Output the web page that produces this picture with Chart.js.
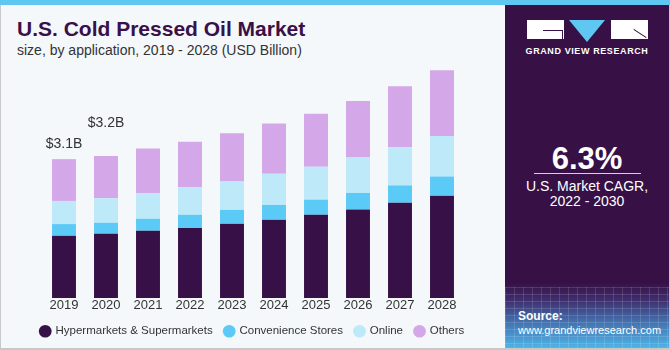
<!DOCTYPE html>
<html lang="en">
<head>
    <meta charset="UTF-8">
    <title>U.S. Cold Pressed Oil Market</title>
    <script src="https://cdn.jsdelivr.net/npm/chart.js"></script>
    <style>
        html, body {
            margin: 0;
            padding: 0;
        }
        body {
            width: 670px;
            height: 350px;
            position: relative;
            overflow: hidden;
            background: #f4f8fb;
            font-family: "Liberation Sans", Arial, sans-serif;
        }
        .topbar {
            position: absolute;
            left: 0; top: 0;
            width: 670px; height: 5px;
            background: #5ec8f2;
        }
        .frame {
            position: absolute;
            left: 0; top: 5px;
            width: 668px; height: 343px;
            border-left: 1px solid #c8c8c8;
            border-bottom: 2px solid #c8c8c8;
            border-right: 1px solid #c8c8c8;
        }
        h1 {
            position: absolute;
            left: 17px; top: 17px;
            margin: 0;
            font-size: 21px;
            line-height: 24px;
            font-weight: bold;
            color: #3a1048;
        }
        .sub {
            position: absolute;
            left: 17px; top: 42px;
            font-size: 14px;
            color: #333;
        }
        #wrap {
            position: absolute;
            left: 0; top: 60px;
            width: 505px; height: 289px;
        }
        .side {
            position: absolute;
            left: 505px; top: 5px;
            width: 164px; height: 343px;
            background: linear-gradient(to bottom, #371146 0%, #371146 81%, #3f2e6e 86%, #4477b4 93%, #4fb4e6 100%);
            color: white;
            text-align: center;
            overflow: hidden;
        }
        .mesh {
            position: absolute;
            left: 0; top: 282px;
            width: 164px; height: 61px;
            background-image:
                repeating-linear-gradient(to right, rgba(255,255,255,0.13) 0 1px, transparent 1px 9px),
                repeating-linear-gradient(to bottom, rgba(255,255,255,0.13) 0 1px, transparent 1px 7px);
        }
        .logo {
            position: absolute;
            left: 22px; top: 15px;
            width: 121px; height: 19px;
        }
        .logo .b1, .logo .b3 {
            position: absolute;
            top: 0; width: 37px; height: 19px;
            background: white;
        }
        .logo .b1 { left: 0; }
        .logo .b3 { left: 84px; }
        .logo .g1 {
            position: absolute;
            left: 16px; top: 10px;
            width: 20px; height: 1px;
            background: #371146;
        }
        .logo .g2 {
            position: absolute;
            left: 35px; top: 10px;
            width: 1px; height: 9px;
            background: #371146;
        }
        .logo .r1 {
            position: absolute;
            left: 107px; top: 9px;
            width: 15px; height: 1px;
            background: #371146;
            transform-origin: 0 0;
            transform: rotate(33deg);
        }
        .logo .tri {
            position: absolute;
            left: 42px; top: 0;
            width: 0; height: 0;
            border-left: 18px solid transparent;
            border-right: 18px solid transparent;
            border-top: 22px solid #5ec8f2;
        }
        .gvr {
            position: absolute;
            left: 0; top: 40px;
            width: 164px;
            font-size: 9px;
            line-height: 12px;
            font-weight: bold;
            letter-spacing: 0.6px;
        }
        .cagr {
            position: absolute;
            left: 0; top: 137px;
            width: 164px;
            font-size: 31px;
            line-height: 34px;
            font-weight: bold;
        }
        .rule {
            position: absolute;
            left: 29px; top: 168px;
            width: 107px; height: 1px;
            background: #d8d0e0;
        }
        .cagrtxt {
            position: absolute;
            left: 0; top: 174px;
            width: 164px;
            font-size: 14px;
            line-height: 15px;
        }
        .src {
            position: absolute;
            left: 13px; top: 304px;
            text-align: left;
            font-size: 11px;
            line-height: 14px;
        }
        .src b { font-size: 12px; }
    </style>
</head>
<body>
    <div class="topbar"></div>
    <div class="frame"></div>
    <h1>U.S. Cold Pressed Oil Market</h1>
    <div class="sub">size, by application, 2019 - 2028 (USD Billion)</div>
    <div id="wrap"><canvas id="chart"></canvas></div>
    <div class="side">
        <div class="mesh"></div>
        <div class="logo">
            <div class="b1"></div><div class="g1"></div><div class="g2"></div>
            <div class="tri"></div>
            <div class="b3"></div><div class="r1"></div>
        </div>
        <div class="gvr">GRAND VIEW RESEARCH</div>
        <div class="cagr">6.3%</div>
        <div class="rule"></div>
        <div class="cagrtxt">U.S. Market CAGR,<br>2022 - 2030</div>
        <div class="src"><b>Source:</b><br>www.grandviewresearch.com</div>
    </div>

    <script>
        // Dane (mld USD)
        const years = ['2019', '2020', '2021', '2022', '2023', '2024', '2025', '2026', '2027', '2028'];
        const hypermarkets = [1.40, 1.44, 1.51, 1.57, 1.67, 1.76, 1.87, 1.99, 2.14, 2.30];
        const convenience = [0.26, 0.25, 0.27, 0.30, 0.31, 0.33, 0.34, 0.37, 0.39, 0.43];
        const online = [0.52, 0.55, 0.58, 0.62, 0.64, 0.70, 0.74, 0.80, 0.86, 0.91];
        const others = [0.94, 0.95, 1.00, 1.02, 1.08, 1.13, 1.19, 1.27, 1.37, 1.48];
        const totalLabels = ['$3.1B', '$3.2B'];

        const FONT = '"Liberation Sans", Arial, sans-serif';

        // Etykiety sum nad pierwszymi słupkami
        const totalsPlugin = {
            id: 'totals',
            afterDatasetsDraw(chart) {
                const ctx = chart.ctx;
                const x = chart.scales.x;
                const y = chart.scales.y;
                const lift = [15, 33];
                ctx.save();
                ctx.font = '14px ' + FONT;
                ctx.fillStyle = '#333';
                ctx.textAlign = 'center';
                ctx.textBaseline = 'middle';
                totalLabels.forEach((txt, i) => {
                    const total = hypermarkets[i] + convenience[i] + online[i] + others[i];
                    ctx.fillText(txt, x.getPixelForValue(i), y.getPixelForValue(total) - lift[i]);
                });
                ctx.restore();
            }
        };

        const makeSet = (label, data, color) => ({
            label: label,
            data: data,
            backgroundColor: color,
            borderWidth: 0,
            barPercentage: 0.57,
            categoryPercentage: 1
        });

        // Puste osie boczne - tylko po to, żeby zostawić margines (legenda ma pełną szerokość)
        const sideAxis = (pos, w) => ({
            position: pos,
            display: true,
            grid: { display: false, drawTicks: false },
            border: { display: false },
            ticks: { display: false },
            afterFit: (scale) => { scale.width = w; }
        });

        new Chart(document.getElementById('chart'), {
            type: 'bar',
            data: {
                labels: years,
                datasets: [
                    makeSet('Hypermarkets & Supermarkets', hypermarkets, '#371048'),
                    makeSet('Convenience Stores', convenience, '#5ccaf6'),
                    makeSet('Online', online, '#bde9f9'),
                    makeSet('Others', others, '#d4a7e9')
                ]
            },
            options: {
                responsive: true,
                maintainAspectRatio: false,
                animation: false,
                layout: { padding: { left: 0, right: 0, top: 0, bottom: 2 } },
                plugins: {
                    tooltip: { enabled: false },
                    legend: {
                        position: 'bottom',
                        labels: {
                            usePointStyle: true,
                            pointStyle: 'circle',
                            boxWidth: 9,
                            boxHeight: 9,
                            padding: 12,
                            color: '#333',
                            font: { family: FONT, size: 11.5 }
                        }
                    }
                },
                scales: {
                    x: {
                        stacked: true,
                        grid: { display: false, drawTicks: false },
                        border: { display: false },
                        ticks: {
                            color: '#333',
                            padding: 0,
                            font: { family: FONT, size: 13 }
                        }
                    },
                    y: Object.assign(sideAxis('left', 43), { stacked: true, min: 0, max: 5.35 }),
                    y2: sideAxis('right', 42)
                }
            },
            plugins: [totalsPlugin]
        });
    </script>
</body>
</html>
